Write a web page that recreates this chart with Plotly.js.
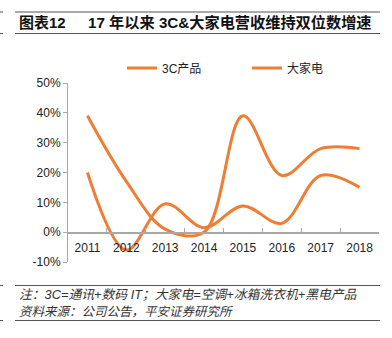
<!DOCTYPE html>
<html>
<head>
<meta charset="utf-8">
<script src="https://cdn.plot.ly/plotly-3.0.1.min.js"></script>
<style>html,body{margin:0;padding:0;background:#fff;}#chart{width:392px;height:338px;}</style>
</head>
<body>
<div id="chart"></div>
<script>
const years = ['2011','2012','2013','2014','2015','2016','2017','2018'];
const series3C = [39, 17, 1, 0, 39, 19, 28, 28];
const seriesAppliance = [20, -6, 9.5, 1.5, 8.8, 3, 19, 15];
const seriesNames = ['3C产品', '大家电'];
const yTickVals = [-10, 0, 10, 20, 30, 40, 50];
const yTickText = ['-10%', '0%', '10%', '20%', '30%', '40%', '50%'];
const titleLabel = '图表12';
const titleText = '17 年以来 3C&大家电营收维持双位数增速';
const noteText = '注：3C=通讯+数码 IT；大家电=空调+冰箱洗衣机+黑电产品';
const sourceText = '资料来源：公司公告，平安证券研究所';

const W = 392, H = 338;
const ml = 68, mr = 13, mt = 83, mb = 76;
const pw = W - ml - mr, ph = H - mt - mb;
const px = x => (x - ml) / pw;
const py = y => (H - mb - y) / ph;

const orange = '#EE7E35';
const font = '"Liberation Sans", Arial, "Noto Sans CJK SC", sans-serif';
const cjk = '"Liberation Sans", "Noto Sans CJK SC", sans-serif';

const traces = [
  {x: years, y: series3C, name: seriesNames[0], type: 'scatter', mode: 'lines',
   line: {color: orange, width: 3, shape: 'spline', smoothing: 1}},
  {x: years, y: seriesAppliance, name: seriesNames[1], type: 'scatter', mode: 'lines',
   line: {color: orange, width: 3, shape: 'spline', smoothing: 1}}
];

function hline(x0, x1, y, color, w) {
  return {type: 'line', xref: 'paper', yref: 'paper', x0: px(x0), x1: px(x1), y0: py(y), y1: py(y),
          line: {color: color, width: w}};
}

const layout = {
  width: W, height: H,
  margin: {l: ml, r: mr, t: mt, b: mb},
  paper_bgcolor: '#fff', plot_bgcolor: '#fff',
  font: {family: font, size: 12, color: '#222'},
  showlegend: true,
  legend: {orientation: 'h', x: px(122), xanchor: 'left', y: py(68), yanchor: 'middle',
           font: {family: cjk, size: 12, color: '#222'}, entrywidth: 80, entrywidthmode: 'pixels',
           bgcolor: 'rgba(0,0,0,0)', tracegroupgap: 0},
  xaxis: {type: 'category', anchor: 'free', position: 10/60,
          showline: true, linecolor: '#a8a8a8', linewidth: 1.5,
          ticks: 'inside', tickson: 'boundaries', ticklen: 4, tickcolor: '#a8a8a8',
          ticklabelstandoff: 4,
          showgrid: false, zeroline: false, tickfont: {size: 12, color: '#222'},
          range: [-0.5, 7.5], fixedrange: true},
  yaxis: {range: [-10, 50], tickvals: yTickVals, ticktext: yTickText,
          showline: true, linecolor: '#a8a8a8', linewidth: 1,
          ticks: 'outside', ticklen: 4, tickcolor: '#a8a8a8',
          showgrid: false, zeroline: false, tickfont: {size: 12, color: '#222'}},
  shapes: [
    hline(15, 380, 12, '#555', 1),
    hline(15, 380, 33.5, '#555', 1),
    hline(0, 3, 12, '#555', 1),
    hline(0, 3, 33.5, '#555', 1),
    hline(15, 380, 285.5, '#555', 1),
    hline(15, 380, 320.5, '#555', 1),
    hline(0, 3, 285.5, '#555', 1),
    hline(0, 3, 320.5, '#555', 1)
  ],
  annotations: [
    {text: '<b>' + titleLabel + '</b>', xref: 'paper', yref: 'paper', x: px(17), y: py(23),
     xanchor: 'left', yanchor: 'middle', showarrow: false,
     font: {family: cjk, size: 15, color: '#111'}},
    {text: '<b>' + titleText + '</b>', xref: 'paper', yref: 'paper', x: px(86), y: py(23),
     xanchor: 'left', yanchor: 'middle', showarrow: false,
     font: {family: cjk, size: 15.2, color: '#111'}},
    {text: '<i>' + noteText + '</i>', xref: 'paper', yref: 'paper', x: px(17), y: py(294),
     xanchor: 'left', yanchor: 'middle', showarrow: false,
     font: {family: cjk, size: 12.8, color: '#333'}},
    {text: '<i>' + sourceText + '</i>', xref: 'paper', yref: 'paper', x: px(17), y: py(312),
     xanchor: 'left', yanchor: 'middle', showarrow: false,
     font: {family: cjk, size: 12.5, color: '#333'}}
  ]
};

Plotly.newPlot('chart', traces, layout, {displayModeBar: false, staticPlot: true});
</script>
</body>
</html>
